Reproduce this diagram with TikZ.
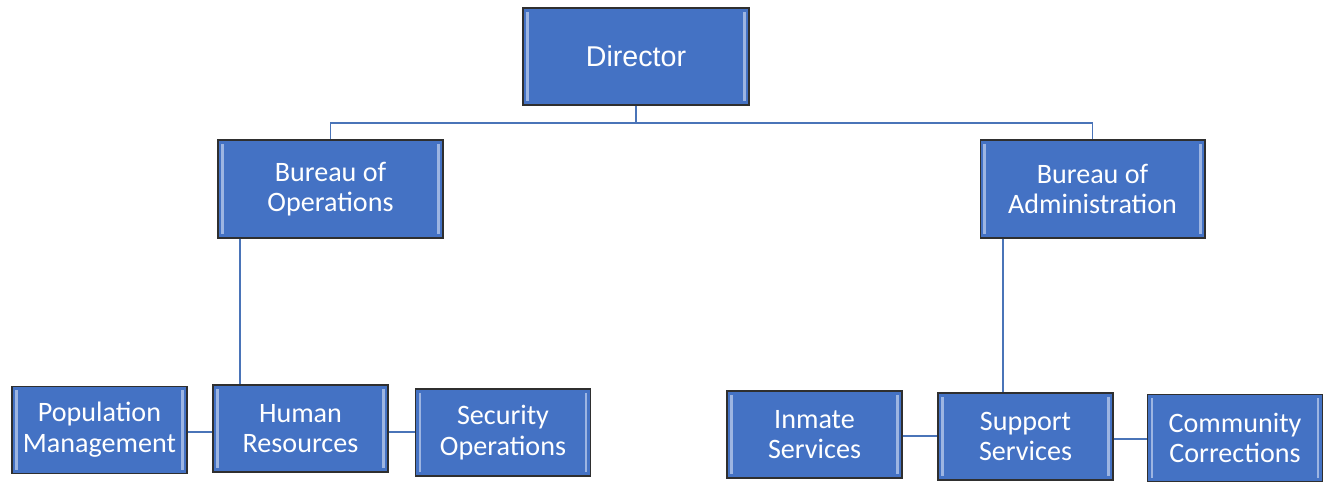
\documentclass[tikz,border=0pt]{standalone}
\usepackage{fontspec}
\setmainfont{Carlito}
\newfontfamily\arialfont{Liberation Sans}
\definecolor{boxblue}{HTML}{4472C4}
\definecolor{bevelblue}{HTML}{9DB5E2}
\definecolor{edgegray}{HTML}{2F2F2F}
\definecolor{lineblue}{HTML}{4A74B8}
\tikzset{
  orgbox/.style={draw=edgegray, line width=0.6pt, fill=boxblue, text=white,
    align=center, font=\fontsize{16}{17.5}\selectfont, inner sep=0pt,
    path picture={
      \fill[bevelblue] ([xshift=1.8pt,yshift=2pt]path picture bounding box.south west)
        rectangle ([xshift=3.2pt,yshift=-2pt]path picture bounding box.north west);
      \fill[bevelblue] ([xshift=-1.8pt,yshift=2pt]path picture bounding box.south east)
        rectangle ([xshift=-3.2pt,yshift=-2pt]path picture bounding box.north east);
    }},
  topbox/.style={orgbox, minimum width=4.52cm, minimum height=1.94cm},
  midbox/.style={orgbox, minimum width=4.5cm, minimum height=1.96cm},
  lowbox/.style={orgbox, minimum width=3.5cm, minimum height=1.74cm},
  link/.style={draw=lineblue, line width=0.9pt}
}
\begin{document}
\begin{tikzpicture}[x=0.02cm, y=-0.02cm]
  \useasboundingbox (0,0) rectangle (1323,481);

  \node[topbox, font=\arialfont\fontsize{16.3}{18}\selectfont] at (636,56.5) (dir) {Director};

  \node[midbox] at (330.5,189) (ops) {Bureau of\\Operations};
  \node[midbox] at (1092.5,189) (adm) {Bureau of\\Administration};

  \node[lowbox] at (99.5,430) (pop) {Population\\Management};
  \node[lowbox] at (300.5,428.5) (hr)  {Human\\Resources};
  \node[lowbox] at (503,432.5) (sec) {Security\\Operations};

  \node[lowbox] at (814.5,434.5) (inm) {Inmate\\Services};
  \node[lowbox] at (1025.5,436.5) (sup) {Support\\Services};
  \node[lowbox] at (1235,438) (com) {Community\\Corrections};

  \coordinate (split) at (636,123);

  \draw[link] (dir.south) -- (split);
  \draw[link] (split) -| (ops.north);
  \draw[link] (split) -| (adm.north);

  \draw[link] (ops.south -| 240,0) -- (hr.north -| 240,0);
  \draw[link] (adm.south -| 1003,0) -- (sup.north -| 1003,0);

  \draw[link] (pop.east |- 0,432) -- (hr.west |- 0,432);
  \draw[link] (hr.east |- 0,432) -- (sec.west |- 0,432);
  \draw[link] (inm.east |- 0,436) -- (sup.west |- 0,436);
  \draw[link] (sup.east |- 0,439) -- (com.west |- 0,439);
\end{tikzpicture}
\end{document}
